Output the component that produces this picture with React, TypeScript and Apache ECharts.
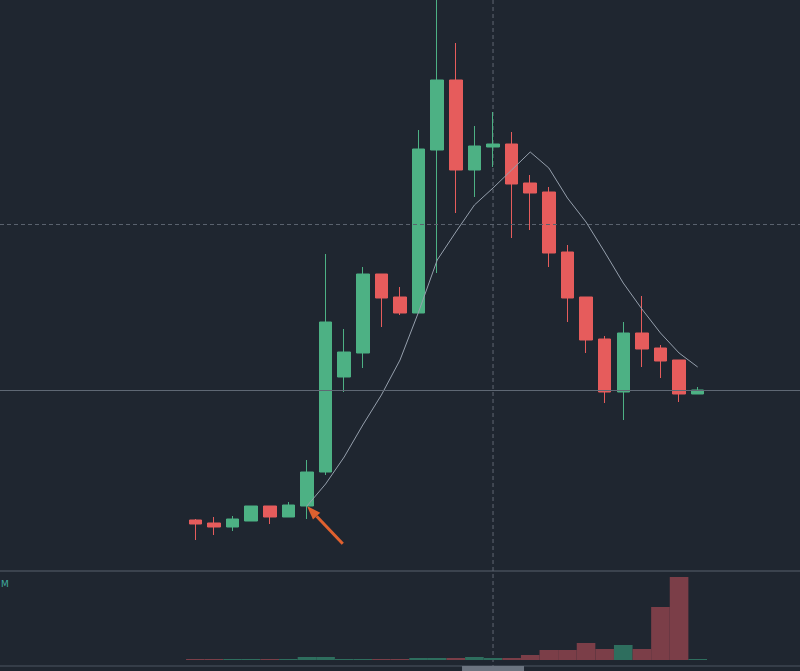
import React, { useEffect, useRef } from "react";
import * as echarts from "echarts";

// padding slots (empty categories) before and after the candles
const LEAD = 10;
const TRAIL = 5;

const opens = [4.0, 3.7, 3.3, 3.9, 5.4, 4.3, 5.4, 8.8, 18.3, 20.7, 28.6, 26.3, 24.7, 41.0, 48.0, 39.0, 41.3, 41.6, 37.7, 36.8, 30.8, 26.3, 22.1, 16.8, 22.7, 21.2, 20.0, 16.6];
const closes = [3.6, 3.3, 4.1, 5.4, 4.3, 5.5, 8.8, 23.8, 20.8, 28.6, 26.2, 24.7, 41.1, 48.0, 39.0, 41.4, 41.6, 37.6, 36.7, 30.7, 26.2, 22.0, 16.8, 22.7, 21.1, 19.9, 16.6, 17.0];
const lows = [2.0, 2.5, 2.9, 3.9, 3.6, 4.3, 4.1, 8.5, 16.8, 19.2, 23.3, 24.5, 24.7, 28.7, 34.7, 36.3, 39.3, 32.2, 33.0, 29.3, 23.8, 20.7, 15.7, 14.0, 19.3, 18.2, 15.8, 16.6];
const highs = [4.1, 4.3, 4.4, 5.4, 5.4, 5.8, 10.0, 30.6, 23.1, 29.3, 28.6, 27.3, 43.0, 56.0, 51.7, 43.4, 44.8, 42.8, 38.5, 37.3, 31.5, 26.3, 22.4, 23.8, 26.4, 21.5, 20.0, 17.3];
const maValues: (number | null)[] = [null, null, null, null, null, null, 5.4, 7.6, 10.3, 13.5, 16.5, 20.0, 24.8, 30.0, 32.8, 35.5, 37.2, 39.0, 40.8, 39.2, 36.2, 33.8, 30.8, 27.7, 25.1, 22.7, 20.7, 19.3];
const volumes = [1, 1, 1, 1, 1, 1, 3, 3, 1, 1, 1, 1, 2, 2, 2, 3, 2, 2, 5, 10, 10, 17, 11, 15, 11, 53, 83, 1];

const categories = Array.from({ length: LEAD + opens.length + TRAIL }, (_, i) => `K${i + 1}`);

const supportLevel = 17.0;
const crossPrice = 33.6;
const crossIndex = 16; // candle under the vertical crosshair
const arrowIndex = 6; // candle the arrow points to

const UP = "#4db184";
const DOWN = "#e65c5c";
const VOL_UP = "#2e6e5e";
const VOL_DOWN = "#7b3e48";
const BG = "#1f2630";

export default function App() {
  const ref = useRef<HTMLDivElement>(null);

  useEffect(() => {
    document.body.style.margin = "0";
    const chart = echarts.init(ref.current!, null, { renderer: "svg" });

    const pad = (n: number) => Array.from({ length: n }, () => "-" as any);
    const candleData = [
      ...pad(LEAD),
      ...opens.map((o, i) => [o, closes[i], lows[i], highs[i]]),
      ...pad(TRAIL),
    ];
    const maData = [...pad(LEAD), ...maValues.map((v) => (v == null ? "-" : v)), ...pad(TRAIL)];
    const volData = [
      ...pad(LEAD),
      ...volumes.map((v, i) => ({
        value: v,
        itemStyle: { color: closes[i] >= opens[i] ? VOL_UP : VOL_DOWN },
      })),
      ...pad(TRAIL),
    ];

    chart.setOption({
      animation: false,
      backgroundColor: BG,
      grid: [
        { left: 0, right: 0, top: 0, height: 560 },
        { left: 0, right: 0, top: 575, height: 85 },
      ],
      xAxis: [
        { type: "category", data: categories, gridIndex: 0, show: false, boundaryGap: true },
        { type: "category", data: categories, gridIndex: 1, show: false, boundaryGap: true },
      ],
      yAxis: [
        { type: "value", gridIndex: 0, min: 0, max: 56, show: false, splitLine: { show: false } },
        { type: "value", gridIndex: 1, min: 0, max: 85, show: false, splitLine: { show: false } },
      ],
      series: [
        {
          type: "candlestick",
          xAxisIndex: 0,
          yAxisIndex: 0,
          data: candleData,
          barWidth: 13,
          clip: true,
          itemStyle: {
            color: UP,
            color0: DOWN,
            borderColor: UP,
            borderColor0: DOWN,
            borderWidth: 1,
          },
          markLine: {
            silent: true,
            symbol: "none",
            label: { show: false },
            data: [
              { yAxis: supportLevel, lineStyle: { color: "#5f6874", type: "solid", width: 1 } },
              { yAxis: crossPrice, lineStyle: { color: "#5a626e", type: [4, 3], width: 1 } },
            ],
          },
        },
        {
          type: "line",
          xAxisIndex: 0,
          yAxisIndex: 0,
          data: maData,
          showSymbol: false,
          symbol: "none",
          connectNulls: false,
          lineStyle: { color: "#959fac", width: 1 },
        },
        {
          type: "bar",
          xAxisIndex: 1,
          yAxisIndex: 1,
          data: volData,
          barWidth: "100%",
        },
      ],
    });

    const [cx] = chart.convertToPixel({ gridIndex: 0 }, [LEAD + crossIndex, 0]) as number[];
    const tip = chart.convertToPixel({ gridIndex: 0 }, [LEAD + arrowIndex, opens[arrowIndex]]) as number[];
    const dir = [0.688, 0.726];
    const headLen = 14;
    const half = 5;
    const base = [tip[0] + dir[0] * headLen, tip[1] + dir[1] * headLen];
    const perp = [-dir[1], dir[0]];
    const tail = [tip[0] + dir[0] * 52, tip[1] + dir[1] * 52];

    chart.setOption({
      graphic: [
        {
          type: "line",
          shape: { x1: 0, y1: 571, x2: 800, y2: 571 },
          style: { stroke: "#58606c", lineWidth: 1 },
          silent: true,
        },
        {
          type: "line",
          shape: { x1: 0, y1: 666, x2: 800, y2: 666 },
          style: { stroke: "#4c5460", lineWidth: 1 },
          silent: true,
        },
        {
          type: "line",
          shape: { x1: cx, y1: 0, x2: cx, y2: 671 },
          style: { stroke: "#5f6773", lineWidth: 1, lineDash: [4, 3] },
          silent: true,
        },
        {
          type: "rect",
          shape: { x: cx - 31, y: 666, width: 62, height: 6 },
          style: { fill: "#6c7480" },
          silent: true,
        },
        {
          type: "text",
          x: 1,
          y: 579,
          style: { text: "M", fill: "#3fa9a0", fontSize: 9, fontFamily: "DejaVu Sans" },
          silent: true,
        },
        {
          type: "line",
          shape: { x1: base[0], y1: base[1], x2: tail[0], y2: tail[1] },
          style: { stroke: "#e0612f", lineWidth: 3 },
          silent: true,
        },
        {
          type: "polygon",
          shape: {
            points: [
              [tip[0], tip[1]],
              [base[0] + perp[0] * half, base[1] + perp[1] * half],
              [base[0] - perp[0] * half, base[1] - perp[1] * half],
            ],
          },
          style: { fill: "#e0612f" },
          silent: true,
        },
      ],
    });

    return () => chart.dispose();
  }, []);

  return (
    <div
      ref={ref}
      style={{ position: "fixed", left: 0, top: 0, width: 800, height: 671, background: BG }}
    />
  );
}
